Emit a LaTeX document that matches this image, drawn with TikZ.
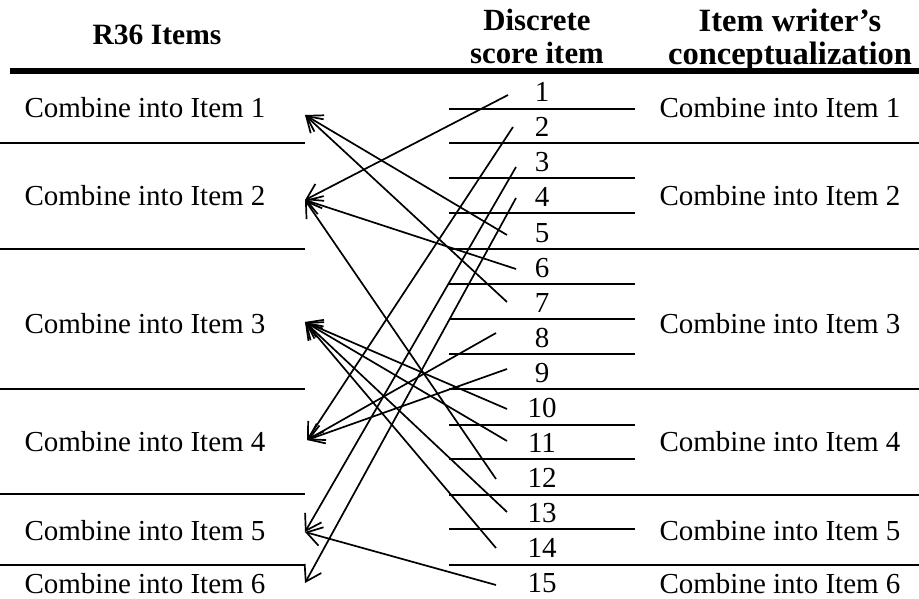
\documentclass[tikz,border=0pt]{standalone}
\usepackage{fontspec}
\setmainfont{Liberation Serif}
\usetikzlibrary{arrows.meta}
\begin{document}
\begin{tikzpicture}[x=1pt,y=-1pt,
  txt/.style={inner sep=0pt, anchor=base, font=\fontsize{29}{34}\selectfont},
  hdr/.style={inner sep=0pt, anchor=base, font=\fontsize{#1}{34}\selectfont\bfseries},
  rulethin/.style={line width=2pt},
  rulethick/.style={line width=5.7pt},
  conn/.style={line width=1.7pt, -{Straight Barb[length=15pt,width=19pt,line width=1.7pt]}}]
\useasboundingbox (0,0) rectangle (919,599);
% header
\node[hdr=29.5] (h1) at (157,45) {R36 Items};
\node[hdr=30.8] (h2a) at (537,31) {Discrete};
\node[hdr=30.8] (h2b) at (537,64) {score item};
\node[hdr=32.5] (h3a) at (790,32) {Item writer’s};
\node[hdr=32.5] (h3b) at (790,65) {conceptualization};
\draw[rulethick] (10,71) -- (919,71);
% left column rules
\foreach \yy in {143.5,249,389,494,565} \draw[rulethin] (0,\yy) -- (305,\yy);
% middle column rules (short)
\foreach \yy in {109,178.5,213.5,283.5,318.5,353.5,424.5,459,529} \draw[rulethin] (449,\yy) -- (635,\yy);
% long rules
\foreach \yy in {143.5,249,389,495,565} \draw[rulethin] (449,\yy) -- (919,\yy);
% left items
\node[txt] (L1) at (145,118) {Combine into Item 1};
\node[txt] (L2) at (145,206) {Combine into Item 2};
\node[txt] (L3) at (145,333) {Combine into Item 3};
\node[txt] (L4) at (145,451) {Combine into Item 4};
\node[txt] (L5) at (145,540) {Combine into Item 5};
\node[txt] (L6) at (145,593) {Combine into Item 6};
% right items
\node[txt] (R1) at (780,118) {Combine into Item 1};
\node[txt] (R2) at (780,206) {Combine into Item 2};
\node[txt] (R3) at (780,333) {Combine into Item 3};
\node[txt] (R4) at (780,451) {Combine into Item 4};
\node[txt] (R5) at (780,540) {Combine into Item 5};
\node[txt] (R6) at (780,593) {Combine into Item 6};
% numbers
\foreach \i in {1,...,15} {
  \node[txt] (n\i) at (542,{102+35*(\i-1)}) {\i};
}
% arrow targets
\coordinate (t1) at (305,115);
\coordinate (t2) at (305,200);
\coordinate (t3) at (305,322);
\coordinate (t4) at (307,440);
\coordinate (t5) at (305,532);
\coordinate (t6) at (305,583);
% arrow starts
\coordinate (s1) at (508,95);
\coordinate (s2) at (513,127);
\coordinate (s3) at (516,167);
\coordinate (s4) at (516,198);
\coordinate (s5) at (507,235);
\coordinate (s6) at (516,269);
\coordinate (s7) at (507,302);
\coordinate (s8) at (496,333);
\coordinate (s9) at (507,369);
\coordinate (s10) at (507,409);
\coordinate (s11) at (507,441);
\coordinate (s12) at (496,479);
\coordinate (s13) at (507,512);
\coordinate (s14) at (496,548);
\coordinate (s15) at (496,585);
% arrows
\draw[conn] (s1) -- (t2);
\draw[conn] (s2) -- (t4);
\draw[conn] (s3) -- (t5);
\draw[conn] (s4) -- (t6);
\draw[conn] (s5) -- (t1);
\draw[conn] (s6) -- (t2);
\draw[conn] (s7) -- (t1);
\draw[conn] (s8) -- (t4);
\draw[conn] (s9) -- (t4);
\draw[conn] (s10) -- (t3);
\draw[conn] (s11) -- (t3);
\draw[conn] (s12) -- (t2);
\draw[conn] (s13) -- (t3);
\draw[conn] (s14) -- (t3);
\draw[conn] (s15) -- (t5);
\end{tikzpicture}
\end{document}
